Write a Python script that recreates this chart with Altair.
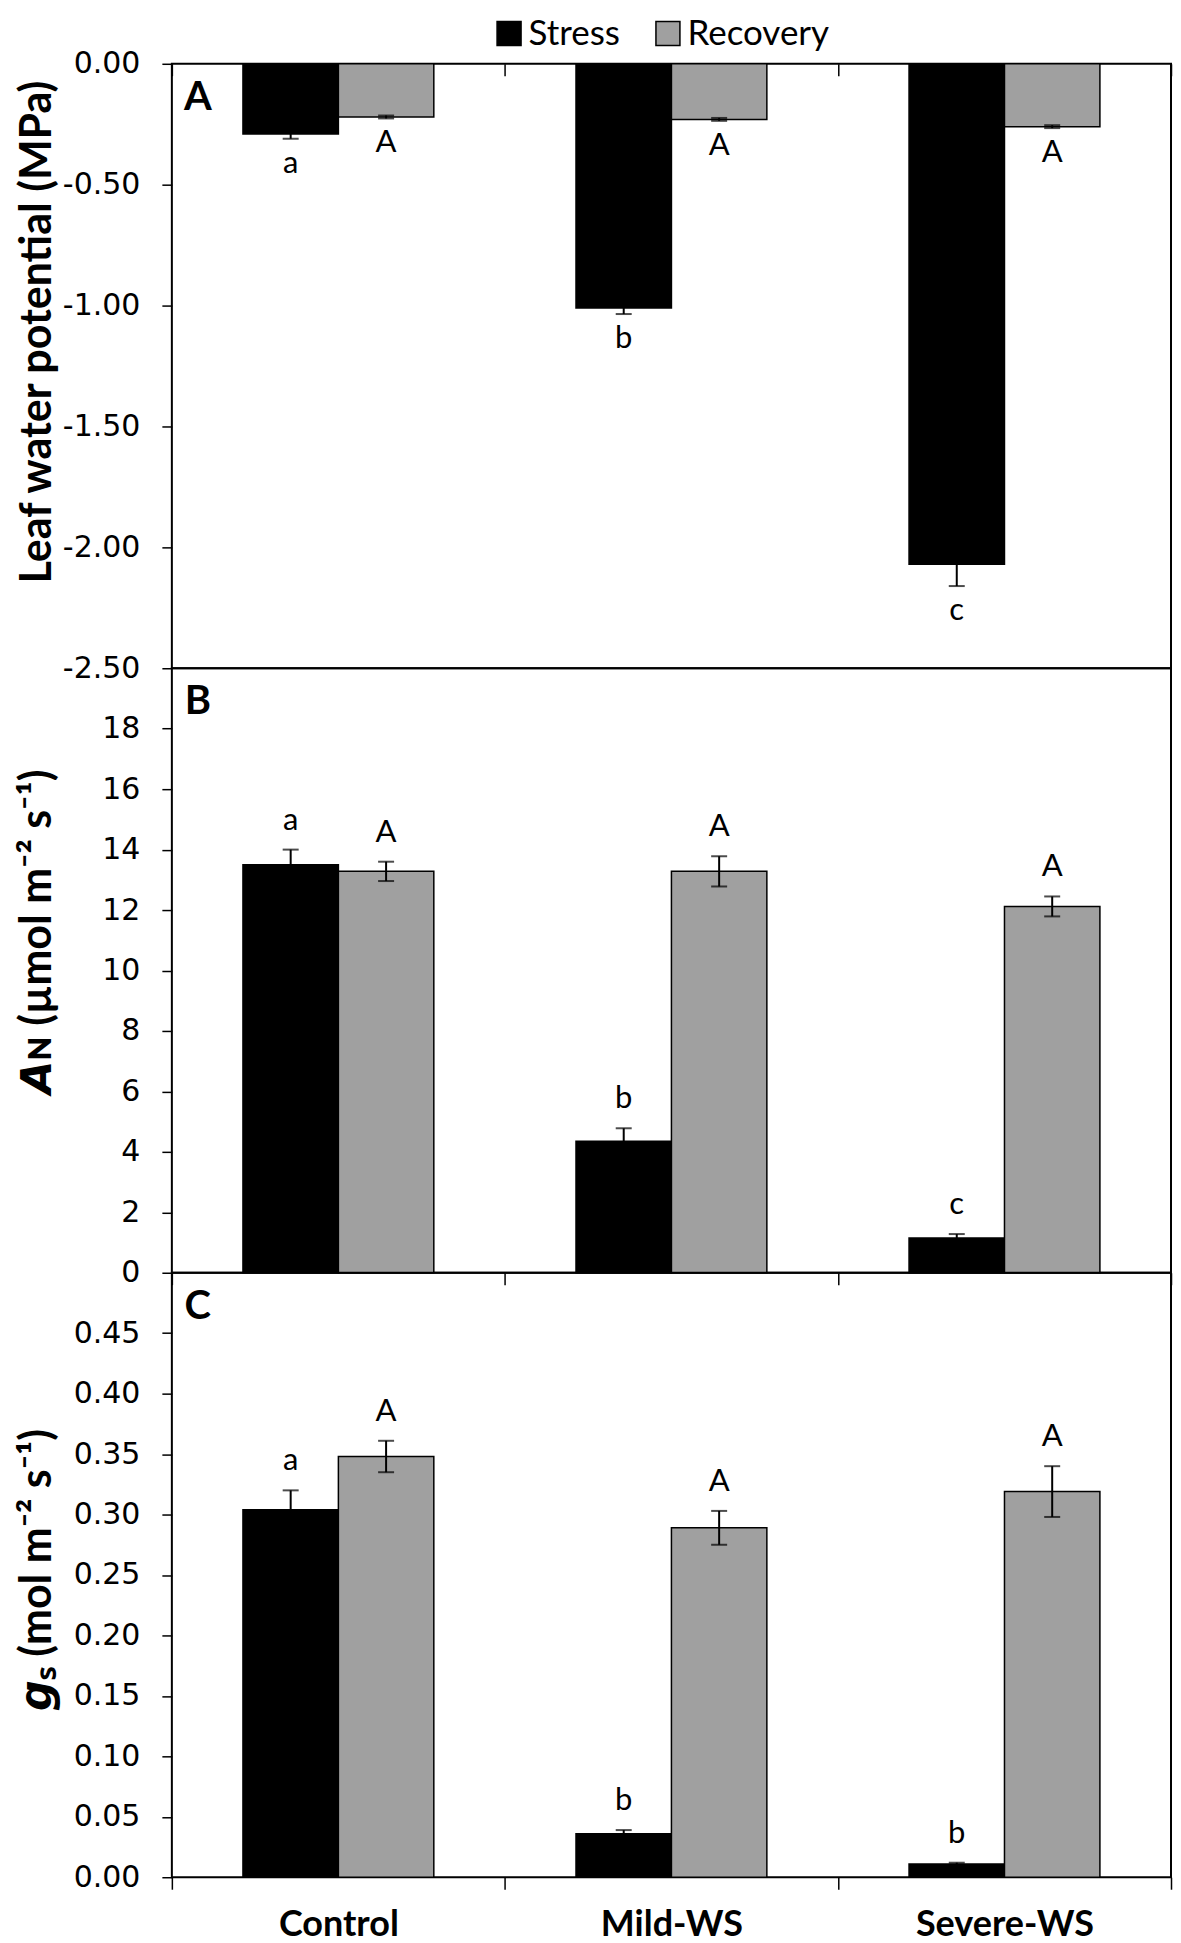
import altair as alt
import pandas as pd

treatments = ["Control", "Mild-WS", "Severe-WS"]
series = ["Stress", "Recovery"]
colors = ["#000000", "#a0a0a0"]

# Panel A: leaf water potential (MPa)
lwp_stress = [-0.29, -1.01, -2.07]
lwp_stress_err = [0.02, 0.025, 0.09]
lwp_recovery = [-0.22, -0.23, -0.26]
lwp_recovery_err = [0.006, 0.006, 0.006]
lwp_stress_letters = ["a", "b", "c"]
lwp_recovery_letters = ["A", "A", "A"]

# Panel B: net assimilation
an_stress = [13.5, 4.35, 1.15]
an_stress_err = [0.5, 0.43, 0.13]
an_recovery = [13.28, 13.28, 12.12]
an_recovery_err = [0.32, 0.5, 0.33]
an_stress_letters = ["a", "b", "c"]
an_recovery_letters = ["A", "A", "A"]

# Panel C: stomatal conductance
gs_stress = [0.304, 0.036, 0.011]
gs_stress_err = [0.016, 0.003, 0.001]
gs_recovery = [0.348, 0.289, 0.319]
gs_recovery_err = [0.013, 0.014, 0.021]
gs_stress_letters = ["a", "b", "b"]
gs_recovery_letters = ["A", "A", "A"]

W = 1000
H = 605


def make_df(s, se, r, re, sl, rl):
    rows = []
    for i, t in enumerate(treatments):
        rows.append(dict(treatment=t, series="Stress", value=s[i], lo=s[i] - se[i], hi=s[i] + se[i], letter=sl[i]))
        rows.append(dict(treatment=t, series="Recovery", value=r[i], lo=r[i] - re[i], hi=r[i] + re[i], letter=rl[i]))
    return pd.DataFrame(rows)


def panel(df, domain, ticks, fmt, title, title_y, tag, negative=False, legend=False, mode="mid"):
    if mode == "top":
        xaxis = alt.Axis(orient="bottom", offset=-H, labels=False, title=None, tickBand="extent",
                         tickSize=12, domain=False, tickColor="black", tickWidth=1.5)
    elif mode == "mid":
        xaxis = alt.Axis(labels=False, title=None, tickBand="extent", tickSize=12, domain=False,
                         tickColor="black", tickWidth=1.5)
    else:
        xaxis = alt.Axis(title=None, tickBand="extent", tickSize=12, domain=False, tickColor="black",
                         tickWidth=1.5, labelAngle=0, labelFont="Lato", labelFontWeight="bold",
                         labelFontSize=36, labelColor="black", labelPadding=18)
    x = alt.X("treatment:N", sort=treatments, scale=alt.Scale(paddingInner=0, paddingOuter=0), axis=xaxis)
    xo = alt.XOffset("series:N", sort=series, scale=alt.Scale(paddingInner=0, paddingOuter=0.745))
    yscale = alt.Scale(domain=domain, nice=False, zero=False)
    yaxis = alt.Axis(values=ticks, format=fmt, title=title, titleX=-134, titleY=title_y,
                     titleBaseline="middle", titleAlign="center",
                     labelExpr="replace(datum.label, '\u2212', '-')")
    color = alt.Color("series:N", sort=series, scale=alt.Scale(domain=series, range=colors),
                      legend=alt.Legend(title=None) if legend else None)
    base = alt.Chart(df)
    bars = base.mark_bar(stroke="black", strokeWidth=1.5).encode(
        x=x, xOffset=xo, y=alt.Y("value:Q", scale=yscale, axis=yaxis), y2=alt.datum(0), color=color)
    rule = base.mark_rule(color="black", strokeWidth=2).encode(
        x=x, xOffset=xo, y=alt.Y("lo:Q", scale=yscale), y2="hi:Q")
    cap_lo = base.mark_tick(color="black", thickness=2, size=16, orient="horizontal").encode(
        x=x, xOffset=xo, y=alt.Y("lo:Q", scale=yscale))
    cap_hi = base.mark_tick(color="black", thickness=2, size=16, orient="horizontal").encode(
        x=x, xOffset=xo, y=alt.Y("hi:Q", scale=yscale))
    if negative:
        letters = base.mark_text(font="Lato", fontSize=31, baseline="alphabetic", dy=34, color="black").encode(
            x=x, xOffset=xo, y=alt.Y("lo:Q", scale=yscale), text="letter:N")
    else:
        letters = base.mark_text(font="Lato", fontSize=31, baseline="alphabetic", dy=-20, color="black").encode(
            x=x, xOffset=xo, y=alt.Y("hi:Q", scale=yscale), text="letter:N")
    tagc = alt.Chart(pd.DataFrame({"t": [tag]})).mark_text(
        font="Lato", fontWeight="bold", fontSize=40, align="center", baseline="middle", color="black"
    ).encode(x=alt.value(26), y=alt.value(34), text="t:N")
    return alt.layer(bars, rule, cap_lo, cap_hi, letters, tagc).properties(width=W, height=H)


dfa = make_df(lwp_stress, lwp_stress_err, lwp_recovery, lwp_recovery_err, lwp_stress_letters, lwp_recovery_letters)
dfb = make_df(an_stress, an_stress_err, an_recovery, an_recovery_err, an_stress_letters, an_recovery_letters)
dfc = make_df(gs_stress, gs_stress_err, gs_recovery, gs_recovery_err, gs_stress_letters, gs_recovery_letters)

pa = panel(dfa, [-2.5, 0], [0, -0.5, -1.0, -1.5, -2.0, -2.5], ".2f", "Leaf water potential (MPa)", 268, "A",
           negative=True, legend=True, mode="top")
pb = panel(dfb, [0, 20], list(range(0, 20, 2)), "d", "𝘼ɴ  (µmol m⁻² s⁻¹)", 263, "B", mode="mid")
pc = panel(dfc, [0, 0.5], [0, 0.05, 0.10, 0.15, 0.20, 0.25, 0.30, 0.35, 0.40, 0.45], ".2f",
           "𝙜ₛ (mol m⁻² s⁻¹)", 297, "C", mode="bottom")

chart = alt.vconcat(pa, pb, pc, spacing=0, bounds="flush").resolve_scale(
    x="independent", y="independent", color="shared"
).resolve_legend(color="independent").resolve_axis(x="independent", y="independent").properties(
    padding={"left": 7, "top": 6, "right": 0, "bottom": 0}
).configure_view(stroke="black", strokeWidth=2).configure_axisY(
    domain=False, grid=False, tickColor="black", tickSize=10, tickWidth=1.5, labelFont="DejaVu Sans",
    labelFontSize=30, labelColor="black", labelPadding=22, titleFont="Lato", titleFontSize=43,
    titleFontWeight="bold", titleColor="black"
).configure_axisX(grid=False).configure_legend(
    orient="none", legendX=320, legendY=-48, direction="horizontal", symbolType="square",
    symbolSize=576, symbolStrokeColor="black", symbolStrokeWidth=1.5, labelFont="Lato",
    labelFontSize=35, labelColor="black", columnPadding=30, labelOffset=2, padding=0
)

chart.save("out.html", embed_options={"renderer": "svg", "actions": False})
